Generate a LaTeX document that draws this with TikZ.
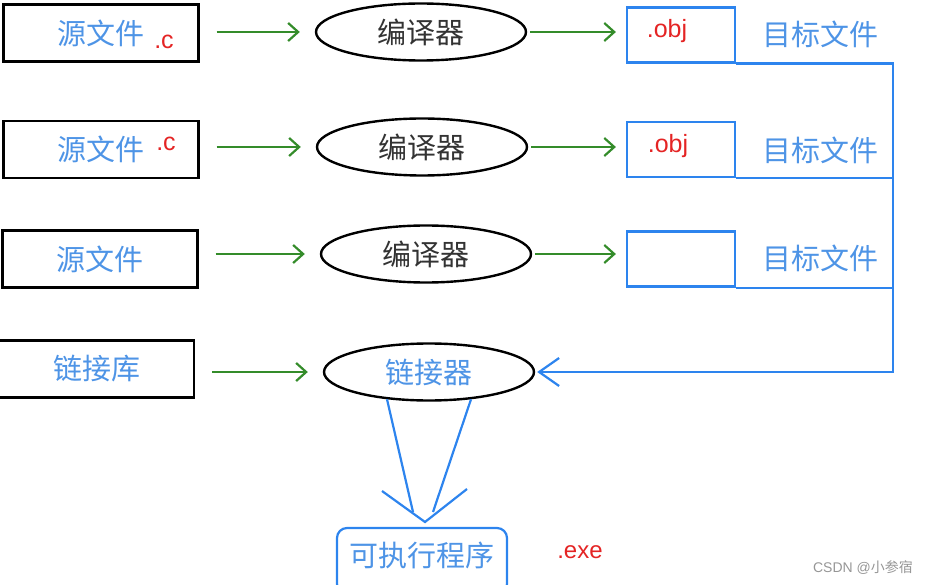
\documentclass[tikz,border=0pt]{standalone}
\usepackage{fontspec}
\setmainfont{Liberation Sans}
\newfontfamily\cjk{Noto Sans CJK SC}
\usetikzlibrary{arrows.meta,shapes.geometric}
\definecolor{lineblue}{RGB}{45,132,238}
\definecolor{textblue}{RGB}{78,148,230}
\definecolor{arrowgreen}{RGB}{52,140,42}
\definecolor{extred}{RGB}{228,36,36}
\definecolor{wmgray}{RGB}{150,150,150}
\begin{document}
\begin{tikzpicture}[x=1pt,y=-1pt,
  zh/.style={font=\cjk\fontsize{29}{34}\selectfont},
  srcbox/.style={zh,draw,line width=2.3pt,text=textblue,minimum width=195pt,minimum height=57pt,inner sep=0pt},
  tool/.style={zh,draw,ellipse,line width=2.4pt,text=black!80,minimum width=210pt,minimum height=57pt,inner sep=0pt},
  objbox/.style={draw=lineblue,line width=2.2pt,minimum width=108pt,minimum height=55pt,inner sep=0pt},
  objtext/.style={zh,text=textblue},
  ext/.style={text=extred,font=\fontsize{25}{28}\selectfont},
  feed/.style={draw=arrowgreen,line width=2.2pt,-{Straight Barb[length=10pt,width=18pt]},shorten <=17pt,shorten >=15pt},
  emit/.style={feed,shorten <=3pt,shorten >=10pt},
  wire/.style={draw=lineblue,line width=2.2pt}
]
\useasboundingbox (0,0) rectangle (928,585);
\node[srcbox] (src1) at (101,33) {源文件};
\node[srcbox] (src2) at (101,149.5) {源文件};
\node[srcbox] (src3) at (100,259) {源文件};
\node[srcbox] (lib) at (96.5,369) {链接库};
\node[ext] (c1) at (164,42) {.c};
\node[ext] (c2) at (166,144) {.c};
\node[tool] (tool1) at (421,32) {编译器};
\node[tool] (tool2) at (422,147) {编译器};
\node[tool] (tool3) at (426,254) {编译器};
\node[tool,text=textblue] (linker) at (429,372) {链接器};
\node[objbox] (obj1) at (681,35) {};
\node[objbox] (obj2) at (681,149.5) {};
\node[objbox] (obj3) at (681,259) {};
\node[ext] (o1) at (667,31) {.obj};
\node[ext] (o2) at (668,146) {.obj};
\node[objtext] (t1) at (820,34) {目标文件};
\node[objtext] (t2) at (820,150) {目标文件};
\node[objtext] (t3) at (820,258) {目标文件};
\node[zh,draw=lineblue,line width=2.2pt,rounded corners=10pt,text=textblue,minimum width=170pt,minimum height=66pt,text depth=14pt,inner sep=0pt] (exe) at (422,561) {可执行程序};
\node[ext,font=\fontsize{24}{27}\selectfont] (exeext) at (580,552) {.exe};
\node[text=wmgray,font=\fontsize{14}{16}\selectfont] (mark) at (863,568) {CSDN @{\cjk 小参宿}};
\draw[feed] (src1.east |- tool1.west) -- (tool1.west);
\draw[feed] (src2.east |- tool2.west) -- (tool2.west);
\draw[feed] (src3.east |- tool3.west) -- (tool3.west);
\draw[feed] (lib.east |- linker.west) -- (linker.west);
\draw[emit] (tool1.east) -- (tool1.east -| obj1.west);
\draw[emit] (tool2.east) -- (tool2.east -| obj2.west);
\draw[emit] (tool3.east) -- (tool3.east -| obj3.west);
\coordinate (bus) at (893,62);
\draw[wire,-{Straight Barb[length=20pt,width=28pt]},shorten >=2pt] (obj1.south east) -- (obj1.south east -| bus) |- (linker.east);
\draw[wire] (obj2.south east) -- (obj2.south east -| bus);
\draw[wire] (obj3.south east) -- (obj3.south east -| bus);
\coordinate (tipL) at (413,512);
\coordinate (tipR) at (433,512);
\coordinate (wingL) at (382,491);
\coordinate (wingR) at (467,489);
\coordinate (apex) at (425,522);
\draw[wire] (linker.213) -- (tipL);
\draw[wire] (linker.327) -- (tipR);
\draw[wire] (wingL) -- (apex) -- (wingR);
\end{tikzpicture}
\end{document}
